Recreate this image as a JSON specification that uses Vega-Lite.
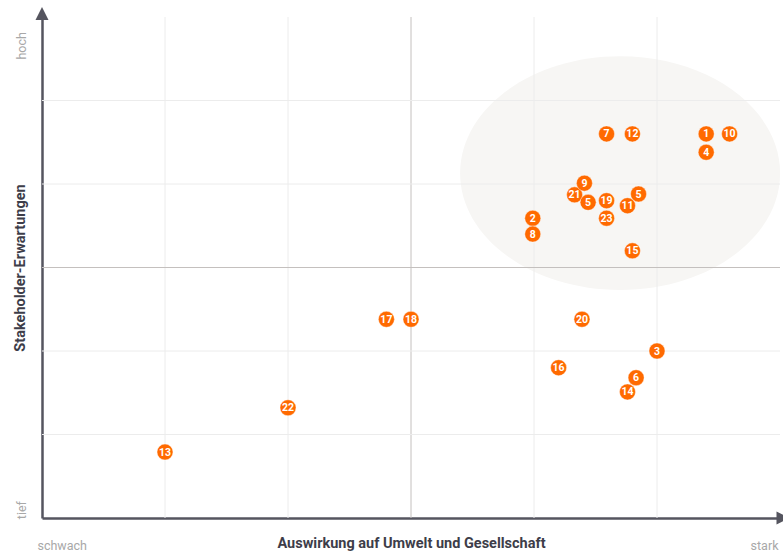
{
  "$schema": "https://vega.github.io/schema/vega-lite/v6.json",
  "width": 738,
  "height": 501,
  "autosize": {"type": "none"},
  "padding": {"left": 42, "top": 17, "right": 3, "bottom": 36},
  "background": "#ffffff",
  "config": {
    "view": {"stroke": null},
    "font": "Liberation Sans Narrow, Roboto, sans-serif",
    "axis": {
      "grid": false, "ticks": false, "tickSize": 0,
      "domainColor": "#55555f", "domainWidth": 2.5,
      "labelColor": "#a8a8a8", "labelFontSize": 12.5, "labelFont": "Liberation Sans Narrow, Roboto, sans-serif",
      "labelFlush": false, "labelOverlap": false, "labelBound": false,
      "titleFont": "Liberation Sans Narrow, Roboto, sans-serif", "titleFontSize": 14.5, "titleFontWeight": "bold", "titleColor": "#3d3d49",
      "zindex": 1
    }
  },
  "datasets": {
    "topics": [
      {"id": "1", "x": 5.40, "y": 4.60},
      {"id": "10", "x": 5.59, "y": 4.60},
      {"id": "4", "x": 5.40, "y": 4.38},
      {"id": "7", "x": 4.59, "y": 4.60},
      {"id": "12", "x": 4.80, "y": 4.60},
      {"id": "21", "x": 4.33, "y": 3.87},
      {"id": "9", "x": 4.41, "y": 4.01},
      {"id": "5", "x": 4.44, "y": 3.78},
      {"id": "19", "x": 4.59, "y": 3.80},
      {"id": "5", "x": 4.85, "y": 3.88},
      {"id": "11", "x": 4.76, "y": 3.74},
      {"id": "23", "x": 4.59, "y": 3.59},
      {"id": "2", "x": 3.99, "y": 3.59},
      {"id": "8", "x": 3.99, "y": 3.40},
      {"id": "15", "x": 4.80, "y": 3.20},
      {"id": "17", "x": 2.80, "y": 2.38},
      {"id": "18", "x": 3.00, "y": 2.38},
      {"id": "20", "x": 4.39, "y": 2.38},
      {"id": "3", "x": 5.00, "y": 2.00},
      {"id": "16", "x": 4.20, "y": 1.80},
      {"id": "6", "x": 4.83, "y": 1.68},
      {"id": "14", "x": 4.76, "y": 1.51},
      {"id": "22", "x": 2.00, "y": 1.32},
      {"id": "13", "x": 1.00, "y": 0.79}
    ],
    "focus": [{"x": 4.70, "y": 4.13}],
    "grid": [{"v": 1}, {"v": 2}, {"v": 3}, {"v": 4}, {"v": 5}],
    "arrowY": [{"x": 0, "y": 6}],
    "arrowX": [{"x": 6, "y": 0}]
  },
  "layer": [
    {
      "data": {"name": "focus"},
      "mark": {"type": "point", "shape": "M-1,0A1,0.73,0,1,0,1,0A1,0.73,0,1,0,-1,0Z", "size": 102400, "filled": true, "fill": "#f7f6f4", "opacity": 1, "strokeWidth": 0},
      "encoding": {
        "x": {"field": "x", "type": "quantitative", "scale": {"domain": [0, 6], "nice": false, "zero": false},
          "axis": {"title": "Auswirkung auf Umwelt und Gesellschaft", "values": [0.16, 5.87], "labelExpr": "datum.value < 1 ? 'schwach' : 'stark'", "labelPadding": 31, "labelAlign": "center", "labelBaseline": "alphabetic", "titleY": 29, "titleBaseline": "alphabetic"}},
        "y": {"field": "y", "type": "quantitative", "scale": {"domain": [0, 6], "nice": false, "zero": false},
          "axis": {"title": "Stakeholder-Erwartungen", "values": [0.1, 5.66], "labelExpr": "datum.value < 1 ? 'tief' : 'hoch'", "labelAngle": 270, "labelPadding": 17, "labelAlign": "center", "labelBaseline": "alphabetic", "titleAngle": 270, "titleX": -18, "titleBaseline": "alphabetic", "titleAlign": "center"}}
      }
    },
    {
      "data": {"name": "grid"},
      "mark": {"type": "rule", "strokeWidth": 1},
      "encoding": {
        "x": {"field": "v", "type": "quantitative",
          "axis": {"title": "Auswirkung auf Umwelt und Gesellschaft", "values": [0.16, 5.87], "labelExpr": "datum.value < 1 ? 'schwach' : 'stark'", "labelPadding": 31, "labelAlign": "center", "labelBaseline": "alphabetic", "titleY": 29, "titleBaseline": "alphabetic"}},
        "stroke": {"condition": {"test": "datum.v === 3", "value": "#c4c0be"}, "value": "#ececec"}
      }
    },
    {
      "data": {"name": "grid"},
      "mark": {"type": "rule", "strokeWidth": 1},
      "encoding": {
        "y": {"field": "v", "type": "quantitative",
          "axis": {"title": "Stakeholder-Erwartungen", "values": [0.1, 5.66], "labelExpr": "datum.value < 1 ? 'tief' : 'hoch'", "labelAngle": 270, "labelPadding": 17, "labelAlign": "center", "labelBaseline": "alphabetic", "titleAngle": 270, "titleX": -18, "titleBaseline": "alphabetic", "titleAlign": "center"}},
        "stroke": {"condition": {"test": "datum.v === 3", "value": "#c4c0be"}, "value": "#ececec"}
      }
    },
    {
      "data": {"name": "topics"},
      "mark": {"type": "point", "shape": "circle", "size": 256, "filled": true, "fill": "#ff6a00", "opacity": 1, "stroke": "#ffffff", "strokeWidth": 0.4},
      "encoding": {
        "x": {"field": "x", "type": "quantitative",
          "axis": {"title": "Auswirkung auf Umwelt und Gesellschaft", "values": [0.16, 5.87], "labelExpr": "datum.value < 1 ? 'schwach' : 'stark'", "labelPadding": 31, "labelAlign": "center", "labelBaseline": "alphabetic", "titleY": 29, "titleBaseline": "alphabetic"}},
        "y": {"field": "y", "type": "quantitative",
          "axis": {"title": "Stakeholder-Erwartungen", "values": [0.1, 5.66], "labelExpr": "datum.value < 1 ? 'tief' : 'hoch'", "labelAngle": 270, "labelPadding": 17, "labelAlign": "center", "labelBaseline": "alphabetic", "titleAngle": 270, "titleX": -18, "titleBaseline": "alphabetic", "titleAlign": "center"}}
      }
    },
    {
      "data": {"name": "topics"},
      "mark": {"type": "text", "color": "#ffffff", "font": "Liberation Sans Narrow, Roboto, sans-serif", "fontWeight": "bold", "fontSize": 10.5, "align": "center", "baseline": "middle", "dy": 0.5},
      "encoding": {
        "x": {"field": "x", "type": "quantitative",
          "axis": {"title": "Auswirkung auf Umwelt und Gesellschaft", "values": [0.16, 5.87], "labelExpr": "datum.value < 1 ? 'schwach' : 'stark'", "labelPadding": 31, "labelAlign": "center", "labelBaseline": "alphabetic", "titleY": 29, "titleBaseline": "alphabetic"}},
        "y": {"field": "y", "type": "quantitative",
          "axis": {"title": "Stakeholder-Erwartungen", "values": [0.1, 5.66], "labelExpr": "datum.value < 1 ? 'tief' : 'hoch'", "labelAngle": 270, "labelPadding": 17, "labelAlign": "center", "labelBaseline": "alphabetic", "titleAngle": 270, "titleX": -18, "titleBaseline": "alphabetic", "titleAlign": "center"}},
        "text": {"field": "id"}
      }
    },
    {
      "data": {"name": "arrowY"},
      "mark": {"type": "point", "shape": "M0,-1L1,1L-1,1Z", "size": 169, "filled": true, "fill": "#55555f", "opacity": 1, "strokeWidth": 0, "yOffset": -3.5},
      "encoding": {
        "x": {"field": "x", "type": "quantitative",
          "axis": {"title": "Auswirkung auf Umwelt und Gesellschaft", "values": [0.16, 5.87], "labelExpr": "datum.value < 1 ? 'schwach' : 'stark'", "labelPadding": 31, "labelAlign": "center", "labelBaseline": "alphabetic", "titleY": 29, "titleBaseline": "alphabetic"}},
        "y": {"field": "y", "type": "quantitative",
          "axis": {"title": "Stakeholder-Erwartungen", "values": [0.1, 5.66], "labelExpr": "datum.value < 1 ? 'tief' : 'hoch'", "labelAngle": 270, "labelPadding": 17, "labelAlign": "center", "labelBaseline": "alphabetic", "titleAngle": 270, "titleX": -18, "titleBaseline": "alphabetic", "titleAlign": "center"}}
      }
    },
    {
      "data": {"name": "arrowX"},
      "mark": {"type": "point", "shape": "M1,0L-1,-1L-1,1Z", "size": 169, "filled": true, "fill": "#55555f", "opacity": 1, "strokeWidth": 0, "xOffset": 3},
      "encoding": {
        "x": {"field": "x", "type": "quantitative",
          "axis": {"title": "Auswirkung auf Umwelt und Gesellschaft", "values": [0.16, 5.87], "labelExpr": "datum.value < 1 ? 'schwach' : 'stark'", "labelPadding": 31, "labelAlign": "center", "labelBaseline": "alphabetic", "titleY": 29, "titleBaseline": "alphabetic"}},
        "y": {"field": "y", "type": "quantitative",
          "axis": {"title": "Stakeholder-Erwartungen", "values": [0.1, 5.66], "labelExpr": "datum.value < 1 ? 'tief' : 'hoch'", "labelAngle": 270, "labelPadding": 17, "labelAlign": "center", "labelBaseline": "alphabetic", "titleAngle": 270, "titleX": -18, "titleBaseline": "alphabetic", "titleAlign": "center"}}
      }
    }
  ]
}
